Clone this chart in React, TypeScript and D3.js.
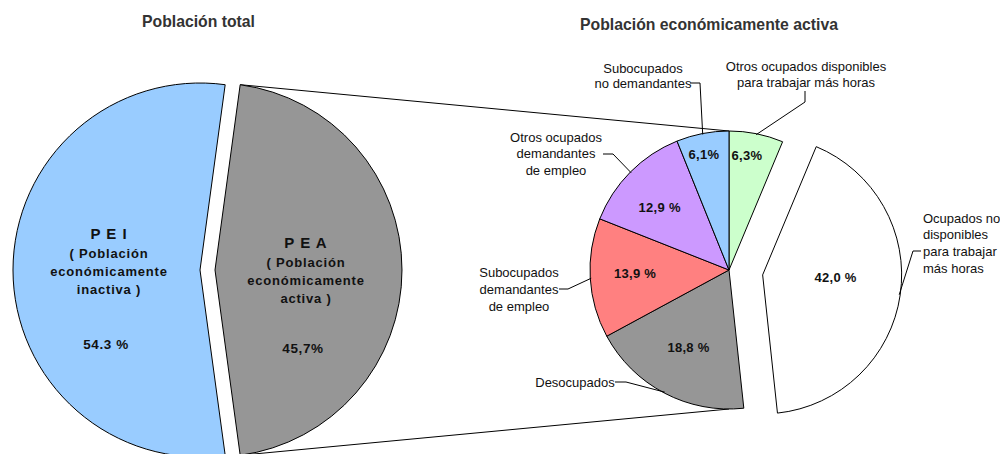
import React from 'react';
import * as d3 from 'd3';

// ---------- DATA ----------
const totalCategories = ['PEA', 'PEI'];
const totalValues = [45.7, 54.3];
const totalTextLines = [
  ['P E A', '( Población', 'económicamente', 'activa )'],
  ['P E I', '( Población', 'económicamente', 'inactiva )'],
];
const totalPctLabels = ['45,7%', '54.3 %'];

const peaCategories = [
  'Otros ocupados disponibles para trabajar más horas',
  'Ocupados no disponibles para trabajar más horas',
  'Desocupados',
  'Subocupados demandantes de empleo',
  'Otros ocupados demandantes de empleo',
  'Subocupados no demandantes',
];
const peaValues = [6.3, 42.0, 18.8, 13.9, 12.9, 6.1];
const peaPctLabels = ['6,3%', '42,0 %', '18,8 %', '13,9 %', '12,9 %', '6,1%'];
const peaCalloutLines = [
  ['Otros ocupados disponibles', 'para trabajar más horas'],
  ['Ocupados no', 'disponibles', 'para trabajar', 'más horas'],
  ['Desocupados'],
  ['Subocupados', 'demandantes', 'de empleo'],
  ['Otros ocupados', 'demandantes', 'de empleo'],
  ['Subocupados', 'no demandantes'],
];
const titles = ['Población total', 'Población económicamente activa'];

// ---------- LAYOUT / STYLE ----------
const W = 1000;
const H = 454;
const FONT = '"Liberation Sans", Arial, Helvetica, sans-serif';
const titleLayout = [
  { x: 142, y: 27, w: 113 },
  { x: 580, y: 30, w: 258 },
];
const left = { cx: 200, cy: 270, r: 187, explode: [15, 0], colors: ['#969696', '#99CCFF'] };
const right = {
  cx: 729, cy: 270, r: 139,
  explode: [0, 34, 0, 0, 0, 0],
  colors: ['#CCFFCC', '#FFFFFF', '#969696', '#FF8080', '#CC99FF', '#99CCFF'],
};
// left pie text block: first line y offset from centroid, pct y offset
const leftLabelR = 91;
const leftBlockDy = [-28, -37];
const leftLineDy = [0, 20, 38, 56];
const leftPctDy = [78, 74];
// right pie pct labels: radius and angle shift (deg)
const rightPctR = [116, 73, 87, 94, 93, 118];
const rightPctShift = [-2.4, -6, 0, 1.4, -3, -1.3];
// callouts: text anchor, first line center y, line height, elbow point
const callouts = [
  { x: 806, y: 66, anchor: 'middle', lh: 16.7, leader: [[805, 91], [805, 102]] },
  { x: 923, y: 218, anchor: 'start', lh: 16.7, leader: [[921, 251], [913, 251]] },
  { x: 575, y: 382, anchor: 'middle', lh: 16.7, leader: [[615, 382], [626, 382]] },
  { x: 519, y: 272, anchor: 'middle', lh: 17, leader: [[559, 289], [568, 289]] },
  { x: 556, y: 137, anchor: 'middle', lh: 16.5, leader: [[603, 154], [613, 154]] },
  { x: 643, y: 68, anchor: 'middle', lh: 15.5, leader: [[690, 83], [700, 83]] },
];

const pt = (cx: number, cy: number, r: number, a: number): [number, number] => [
  cx + r * Math.sin(a),
  cy - r * Math.cos(a),
];

export default function App() {
  // Left pie
  const leftTotal = d3.sum(totalValues);
  const leftStart = Math.PI / 2 - (totalValues[0] / leftTotal) * Math.PI;
  const leftPie = d3
    .pie<number>()
    .sort(null)
    .value((d) => d)
    .startAngle(leftStart)
    .endAngle(leftStart + 2 * Math.PI)(totalValues);
  const leftArc = d3.arc<d3.PieArcDatum<number>>().innerRadius(0).outerRadius(left.r);
  const leftCenters = leftPie.map((s, i) => {
    const mid = (s.startAngle + s.endAngle) / 2;
    return pt(left.cx, left.cy, left.explode[i], mid);
  });

  // Right pie
  const rightPie = d3
    .pie<number>()
    .sort(null)
    .value((d) => d)
    .startAngle(0)
    .endAngle(2 * Math.PI)(peaValues);
  const rightArc = d3.arc<d3.PieArcDatum<number>>().innerRadius(0).outerRadius(right.r);
  const rightCenters = rightPie.map((s, i) => {
    const mid = (s.startAngle + s.endAngle) / 2;
    return pt(right.cx, right.cy, right.explode[i], mid);
  });

  // connector lines
  const pea = leftPie[0];
  const topA = pt(leftCenters[0][0], leftCenters[0][1], left.r, pea.startAngle);
  const botA = pt(leftCenters[0][0], leftCenters[0][1], left.r, pea.endAngle);
  const topB: [number, number] = [right.cx, right.cy - right.r];
  const botB: [number, number] = [right.cx, right.cy + right.r];

  const line = d3.line();

  return (
    <svg
      width={W}
      height={H}
      style={{ position: 'absolute', left: 0, top: 0, background: '#fff' }}
      fontFamily={FONT}
    >
      <rect x={0} y={0} width={W} height={H} fill="#fff" />
      {/* titles */}
      {titles.map((t, i) => (
        <text
          key={t}
          x={titleLayout[i].x}
          y={titleLayout[i].y}
          textLength={titleLayout[i].w}
          lengthAdjust="spacingAndGlyphs"
          fontSize={17}
          fontWeight="bold"
          fill="#333"
        >
          {t}
        </text>
      ))}

      {/* connector lines */}
      <path d={line([topA, topB]) || ''} stroke="#000" strokeWidth={1} fill="none" />
      <path d={line([botA, botB]) || ''} stroke="#000" strokeWidth={1} fill="none" />

      {/* left pie */}
      {leftPie.map((s, i) => (
        <path
          key={totalCategories[i]}
          d={leftArc(s) || ''}
          transform={`translate(${leftCenters[i][0]},${leftCenters[i][1]})`}
          fill={left.colors[i]}
          stroke="#000"
          strokeWidth={1}
        />
      ))}
      {leftPie.map((s, i) => {
        const mid = (s.startAngle + s.endAngle) / 2;
        const [lx, ly] = pt(leftCenters[i][0], leftCenters[i][1], leftLabelR, mid);
        const y0 = ly + leftBlockDy[i];
        return (
          <g key={'lt' + i} fontWeight="bold" fill="#111" textAnchor="middle">
            {totalTextLines[i].map((t, j) => (
              <text
                key={j}
                x={lx}
                y={y0 + leftLineDy[j] + (j === 0 ? 5.5 : 4.5)}
                fontSize={j === 0 ? 15 : 13}
                letterSpacing={j === 0 ? 1 : 0.8}
              >
                {t}
              </text>
            ))}
            <text x={lx - 3} y={ly + leftPctDy[i] + 4.5} fontSize={13.5} letterSpacing={0.6}>
              {totalPctLabels[i]}
            </text>
          </g>
        );
      })}

      {/* right pie */}
      {rightPie.map((s, i) => (
        <path
          key={peaCategories[i]}
          d={rightArc(s) || ''}
          transform={`translate(${rightCenters[i][0]},${rightCenters[i][1]})`}
          fill={right.colors[i]}
          stroke="#000"
          strokeWidth={1}
        />
      ))}
      {rightPie.map((s, i) => {
        const mid = (s.startAngle + s.endAngle) / 2 + (rightPctShift[i] * Math.PI) / 180;
        const [lx, ly] = pt(rightCenters[i][0], rightCenters[i][1], rightPctR[i], mid);
        return (
          <text
            key={'p' + i}
            x={lx}
            y={ly + 4.5}
            textAnchor="middle"
            fontSize={13}
            fontWeight="bold"
            letterSpacing={0.3}
            fill="#111"
          >
            {peaPctLabels[i]}
          </text>
        );
      })}

      {/* callouts */}
      {rightPie.map((s, i) => {
        const mid = (s.startAngle + s.endAngle) / 2;
        const edge = pt(rightCenters[i][0], rightCenters[i][1], right.r - 1, mid);
        const c = callouts[i];
        const pts = [...(c.leader as [number, number][]), edge];
        return (
          <g key={'c' + i}>
            <path d={line(pts) || ''} stroke="#000" strokeWidth={1} fill="none" />
            {peaCalloutLines[i].map((t, j) => (
              <text
                key={j}
                x={c.x}
                y={c.y + j * c.lh + 4.5}
                textAnchor={c.anchor as any}
                fontSize={13}
                fill="#111"
              >
                {t}
              </text>
            ))}
          </g>
        );
      })}
    </svg>
  );
}
